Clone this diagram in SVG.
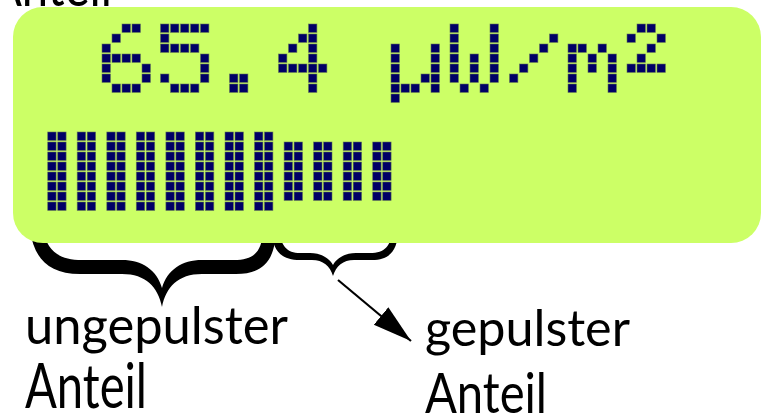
<svg xmlns="http://www.w3.org/2000/svg" width="761" height="420" viewBox="0 0 761 420">
  <style>
    .dot { fill: #000066; stroke: #5f6f5a; stroke-width: 0.7; stroke-opacity: 0.8; }
    .panel { fill: #ccff66; }
    .label { font-family: Lato, "Noto Sans", "DejaVu Sans", sans-serif; fill: #000000; }
    .brace { fill: #000000; }
    .arrow { stroke: #000000; stroke-width: 2.2; fill: none; }
  </style>
  <defs>
    <!-- one LCD pixel -->
    <rect id="px" class="dot" width="8.4" height="8.4"/>
    <marker id="head" markerUnits="userSpaceOnUse" markerWidth="40" markerHeight="24" refX="39" refY="11.3" orient="auto">
      <path d="M0,0 L39,11.3 L0,22.6 Z" fill="#000000"/>
    </marker>
    <!-- 5x7 dot-matrix glyphs, origin = top-left pixel -->
    <g id="g6">
      <use href="#px" x="20" y="0"/><use href="#px" x="30" y="0"/>
      <use href="#px" x="10" y="10"/>
      <use href="#px" x="0" y="20"/>
      <use href="#px" x="0" y="30"/><use href="#px" x="10" y="30"/><use href="#px" x="20" y="30"/><use href="#px" x="30" y="30"/>
      <use href="#px" x="0" y="40"/><use href="#px" x="40" y="40"/>
      <use href="#px" x="0" y="50"/><use href="#px" x="40" y="50"/>
      <use href="#px" x="10" y="60"/><use href="#px" x="20" y="60"/><use href="#px" x="30" y="60"/>
    </g>
    <g id="g5">
      <use href="#px" x="0" y="0"/><use href="#px" x="10" y="0"/><use href="#px" x="20" y="0"/><use href="#px" x="30" y="0"/><use href="#px" x="40" y="0"/>
      <use href="#px" x="0" y="10"/>
      <use href="#px" x="0" y="20"/><use href="#px" x="10" y="20"/><use href="#px" x="20" y="20"/><use href="#px" x="30" y="20"/>
      <use href="#px" x="40" y="30"/>
      <use href="#px" x="40" y="40"/>
      <use href="#px" x="0" y="50"/><use href="#px" x="40" y="50"/>
      <use href="#px" x="10" y="60"/><use href="#px" x="20" y="60"/><use href="#px" x="30" y="60"/>
    </g>
    <g id="gdot">
      <use href="#px" x="10" y="50"/><use href="#px" x="20" y="50"/>
      <use href="#px" x="10" y="60"/><use href="#px" x="20" y="60"/>
    </g>
    <g id="g4">
      <use href="#px" x="30" y="0"/>
      <use href="#px" x="20" y="10"/><use href="#px" x="30" y="10"/>
      <use href="#px" x="10" y="20"/><use href="#px" x="30" y="20"/>
      <use href="#px" x="0" y="30"/><use href="#px" x="30" y="30"/>
      <use href="#px" x="0" y="40"/><use href="#px" x="10" y="40"/><use href="#px" x="20" y="40"/><use href="#px" x="30" y="40"/><use href="#px" x="40" y="40"/>
      <use href="#px" x="30" y="50"/>
      <use href="#px" x="30" y="60"/>
    </g>
    <g id="gmu">
      <use href="#px" x="0" y="20"/><use href="#px" x="40" y="20"/>
      <use href="#px" x="0" y="30"/><use href="#px" x="40" y="30"/>
      <use href="#px" x="0" y="40"/><use href="#px" x="40" y="40"/>
      <use href="#px" x="0" y="50"/><use href="#px" x="30" y="50"/><use href="#px" x="40" y="50"/>
      <use href="#px" x="0" y="60"/><use href="#px" x="10" y="60"/><use href="#px" x="20" y="60"/><use href="#px" x="40" y="60"/>
      <use href="#px" x="0" y="70"/>
    </g>
    <g id="gW">
      <use href="#px" x="0" y="0"/><use href="#px" x="40" y="0"/>
      <use href="#px" x="0" y="10"/><use href="#px" x="40" y="10"/>
      <use href="#px" x="0" y="20"/><use href="#px" x="40" y="20"/>
      <use href="#px" x="0" y="30"/><use href="#px" x="20" y="30"/><use href="#px" x="40" y="30"/>
      <use href="#px" x="0" y="40"/><use href="#px" x="20" y="40"/><use href="#px" x="40" y="40"/>
      <use href="#px" x="0" y="50"/><use href="#px" x="20" y="50"/><use href="#px" x="40" y="50"/>
      <use href="#px" x="10" y="60"/><use href="#px" x="30" y="60"/>
    </g>
    <g id="gslash">
      <use href="#px" x="40" y="10"/>
      <use href="#px" x="30" y="20"/>
      <use href="#px" x="20" y="30"/>
      <use href="#px" x="10" y="40"/>
      <use href="#px" x="0" y="50"/>
    </g>
    <g id="gm">
      <use href="#px" x="0" y="20"/><use href="#px" x="10" y="20"/><use href="#px" x="30" y="20"/>
      <use href="#px" x="0" y="30"/><use href="#px" x="20" y="30"/><use href="#px" x="40" y="30"/>
      <use href="#px" x="0" y="40"/><use href="#px" x="20" y="40"/><use href="#px" x="40" y="40"/>
      <use href="#px" x="0" y="50"/><use href="#px" x="40" y="50"/>
      <use href="#px" x="0" y="60"/><use href="#px" x="40" y="60"/>
    </g>
    <g id="g2sup">
      <use href="#px" x="10" y="0"/><use href="#px" x="20" y="0"/>
      <use href="#px" x="0" y="10"/><use href="#px" x="30" y="10"/>
      <use href="#px" x="20" y="20"/>
      <use href="#px" x="10" y="30"/>
      <use href="#px" x="0" y="40"/><use href="#px" x="10" y="40"/><use href="#px" x="20" y="40"/><use href="#px" x="30" y="40"/>
    </g>
    <!-- bargraph segments: 2 pixels wide, 8 or 6 pixels tall -->
    <g id="bar8">
      <use href="#px" x="0" y="0"/><use href="#px" x="10" y="0"/>
      <use href="#px" x="0" y="10"/><use href="#px" x="10" y="10"/>
      <use href="#px" x="0" y="20"/><use href="#px" x="10" y="20"/>
      <use href="#px" x="0" y="30"/><use href="#px" x="10" y="30"/>
      <use href="#px" x="0" y="40"/><use href="#px" x="10" y="40"/>
      <use href="#px" x="0" y="50"/><use href="#px" x="10" y="50"/>
      <use href="#px" x="0" y="60"/><use href="#px" x="10" y="60"/>
      <use href="#px" x="0" y="70"/><use href="#px" x="10" y="70"/>
    </g>
    <g id="bar6">
      <use href="#px" x="0" y="0"/><use href="#px" x="10" y="0"/>
      <use href="#px" x="0" y="10"/><use href="#px" x="10" y="10"/>
      <use href="#px" x="0" y="20"/><use href="#px" x="10" y="20"/>
      <use href="#px" x="0" y="30"/><use href="#px" x="10" y="30"/>
      <use href="#px" x="0" y="40"/><use href="#px" x="10" y="40"/>
      <use href="#px" x="0" y="50"/><use href="#px" x="10" y="50"/>
    </g>
  </defs>

  <rect width="761" height="420" fill="#ffffff"/>

  <!-- label of the previous panel, mostly above the top edge -->
  <text class="label" x="-10" y="6" font-size="57" textLength="122" lengthAdjust="spacingAndGlyphs">Anteil</text>

  <!-- braces sit under the display panel -->
  <g id="brace-unpulsed">
    <path class="brace" d="M30,230 C34,258 48,274 80,274 L122,274 C146,274 158,287 162,307 C166,287 178,274 202,274 L236,274 C262,274 275,262 276,230 L263,230 C262,252 254,260 234,260 L202,260 C182,260 167,270 162,288 C157,270 142,260 122,260 L82,260 C58,260 47,250 43,230 Z"/>
  </g>
  <g id="brace-pulsed">
    <path class="brace" d="M271,230 C273,252 282,260 300,260 L312,260 C323,260 330,266 333,276 C336,266 343,260 354,260 L372,260 C390,260 398,250 398,230 L392,230 C391,246 385,253 370,253 L356,253 C345,253 337,258 333,265 C329,258 321,253 310,253 L300,253 C287,253 281,246 279,230 Z"/>
  </g>

  <g id="display">
    <rect class="panel" x="13" y="7" width="748" height="236" rx="30" ry="30"/>
    <g id="readout">
      <use href="#g6" x="102" y="24"/>
      <use href="#g5" x="160.5" y="24"/>
      <use href="#gdot" x="219.5" y="24"/>
      <use href="#g4" x="278.5" y="24"/>
      <use href="#gmu" x="391" y="24"/>
      <use href="#gW" x="450" y="24"/>
      <use href="#gslash" x="509.5" y="24"/>
      <use href="#gm" x="568" y="24"/>
      <use href="#g2sup" x="627" y="24"/>
    </g>
    <g id="bargraph">
      <use href="#bar8" x="47.7" y="132"/>
      <use href="#bar8" x="77.2" y="132"/>
      <use href="#bar8" x="106.8" y="132"/>
      <use href="#bar8" x="136.3" y="132"/>
      <use href="#bar8" x="165.9" y="132"/>
      <use href="#bar8" x="195.4" y="132"/>
      <use href="#bar8" x="225" y="132"/>
      <use href="#bar8" x="254.5" y="132"/>
      <use href="#bar6" x="284.1" y="142"/>
      <use href="#bar6" x="313.6" y="142"/>
      <use href="#bar6" x="343.2" y="142"/>
      <use href="#bar6" x="372.7" y="142"/>
    </g>
  </g>

  <g id="connectors">
    <line class="arrow" x1="338" y1="280" x2="411" y2="341" marker-end="url(#head)"/>
  </g>

  <g id="label-unpulsed">
    <text class="label" x="25" y="343.5" font-size="52.7" textLength="263" lengthAdjust="spacingAndGlyphs">ungepulster</text>
    <text class="label" x="25" y="408.3" font-size="62" textLength="122" lengthAdjust="spacingAndGlyphs">Anteil</text>
  </g>
  <g id="label-pulsed">
    <text class="label" x="425" y="346" font-size="49.5" textLength="205" lengthAdjust="spacingAndGlyphs">gepulster</text>
    <text class="label" x="425" y="413" font-size="56" textLength="122" lengthAdjust="spacingAndGlyphs">Anteil</text>
  </g>
</svg>
